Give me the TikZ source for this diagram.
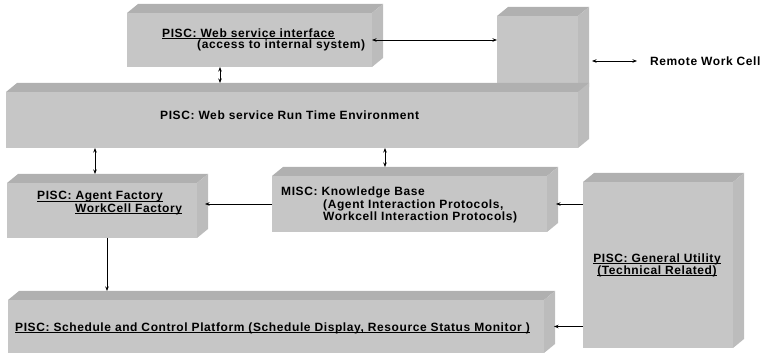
\documentclass[tikz,border=0pt]{standalone}
\usepackage{fontspec}
\setmainfont{Liberation Sans}
\newfontfamily\lblfont[LetterSpace=5]{Liberation Sans}
\usetikzlibrary{calc,arrows.meta}
\definecolor{boxfront}{RGB}{198,198,198}
\definecolor{boxtop}{RGB}{176,176,176}
\definecolor{boxside}{RGB}{188,188,188}
\newcommand\ulx[1]{\setbox0\hbox{#1}\rlap{\rule[-1.6pt]{\wd0}{0.8pt}}\box0}
\tikzset{
  box/.style={fill=boxfront, draw=none, rectangle, inner sep=0pt, outer sep=0pt, anchor=north west},
  lbl/.style={font=\lblfont\bfseries\fontsize{12}{11}\selectfont, align=left, inner sep=0pt, anchor=west},
  conn/.style={draw=black, line width=0.7pt, -{Stealth[length=4.5pt,width=3.5pt]}},
  biconn/.style={draw=black, line width=0.7pt, {Stealth[length=4.5pt,width=3.5pt]}-{Stealth[length=4.5pt,width=3.5pt]}},
}
\newcommand\cubefaces[1]{%
  \fill[boxtop] (#1.north west) -- ++(11pt,9pt) -- ($(#1.north east)+(11pt,9pt)$) -- (#1.north east) -- cycle;
  \fill[boxside] (#1.north east) -- ++(11pt,9pt) -- ($(#1.south east)+(11pt,9pt)$) -- (#1.south east) -- cycle;
  \coordinate (#1-top) at ($(#1.north)+(0pt,9pt)$);
}
\begin{document}
\begin{tikzpicture}[x=1pt,y=-1pt]
\useasboundingbox (0,0) rectangle (764,355);
% boxes
\node[box, minimum width=245pt, minimum height=54pt] (wsi) at (127,13) {};
\cubefaces{wsi}
\node[box, minimum width=81pt, minimum height=80pt] (rem) at (497,16) {};
\cubefaces{rem}
\node[box, minimum width=572pt, minimum height=56pt] (rt) at (6,92) {};
\cubefaces{rt}
\node[box, minimum width=190pt, minimum height=55pt] (af) at (7,183) {};
\cubefaces{af}
\node[box, minimum width=275pt, minimum height=56pt] (kb) at (272,176) {};
\cubefaces{kb}
\node[box, minimum width=150pt, minimum height=166pt] (gu) at (583,182) {};
\cubefaces{gu}
\node[box, minimum width=536pt, minimum height=53pt] (sc) at (8,300) {};
\cubefaces{sc}
% texts
\node[lbl] (wsit) at (162,40) {\ulx{PISC: Web service interface}\\\hspace*{35pt}(access to internal system)};
\node[lbl] (rtt) at (160,115) {PISC: Web service Run Time Environment};
\node[lbl] (aft) at (37,203) {\ulx{PISC: Agent Factory}\\\hspace*{38pt}\ulx{WorkCell Factory}};
\node[lbl] (kbt) at (281,205) {MISC: Knowledge Base\\\hspace*{42pt}(Agent Interaction Protocols,\\\hspace*{42pt}Workcell Interaction Protocols)};
\node[lbl, anchor=center, align=center] (gut) at (657,265) {\ulx{PISC: General Utility}\\\ulx{(Technical Related)}};
\node[lbl] (sct) at (15,328) {\ulx{PISC: Schedule and Control Platform (Schedule Display, Resource Status Monitor )}};
\node[lbl] (rwc) at (650,61) {Remote Work Cell};
% connectors
\draw[biconn] (wsi.east) -- (wsi.east -| rem.west);
\path (wsi.south west) ++(93,0) coordinate (c1);
\draw[biconn] (c1) -- (c1 |- rt-top);
\path (rem.east) ++(14,0) coordinate (c3);
\draw[biconn] (c3 |- rwc.west) -- ([xshift=-13pt]rwc.west);
\path (rt.south west) ++(89,0) coordinate (c4);
\draw[biconn] (c4) -- (c4 |- af-top);
\path (rt.south west) ++(379,0) coordinate (c5);
\draw[biconn] (c5) -- (c5 |- kb-top);
\draw[conn] (kb.west) -- ([xshift=8pt]af.east |- kb.west);
\draw[conn] (gu.west |- kb.east) -- ([xshift=9pt]kb.east);
\path (af.south west) ++(100,0) coordinate (c8);
\draw[conn] (c8) -- (c8 |- sc-top);
\draw[conn] (gu.west |- sc.east) -- ([xshift=10pt]sc.east);
\end{tikzpicture}
\end{document}
